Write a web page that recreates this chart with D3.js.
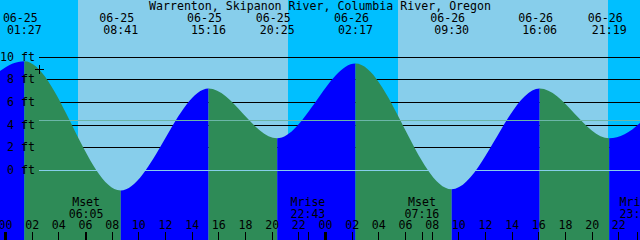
<!DOCTYPE html>
<html>
<head>
<meta charset="utf-8">
<script src="https://cdn.jsdelivr.net/npm/d3@7"></script>
<style>
  body { margin: 0; background: #fff; }
  text { font-family: "DejaVu Sans Mono", monospace; font-size: 11.6px; fill: #000; }
</style>
</head>
<body>
<div id="chart"></div>
<script>
// Chart data
const title = "Warrenton, Skipanon River, Columbia River, Oregon";
const timeStart = "06-24 23:37:30", timeEnd = "06-26 23:37:30";

// high / low tides (first and last are just off the chart)
const tideTimes = ["06-24 19:35", "06-25 01:27", "06-25 08:41", "06-25 15:16", "06-25 20:25",
                   "06-26 02:17", "06-26 09:30", "06-26 16:06", "06-26 21:19", "06-27 03:05"];
const tideHeights = [2.9, 9.6, -1.8, 7.2, 2.8, 9.4, -1.7, 7.2, 2.8, 9.3];

const sunTimes = ["06-25 05:28", "06-25 21:13", "06-26 05:28", "06-26 21:13"];
const sunEvents = ["rise", "set", "rise", "set"];

const moonTimes = ["06-25 06:05", "06-25 22:43", "06-26 07:16", "06-26 23:24"];
const moonEvents = ["Mset", "Mrise", "Mset", "Mrise"];

const depthTicks = [0, 2, 4, 6, 8, 10];
const mslLevel = 4.4;

// Sets the dimensions
const width = 640, height = 240;
const dayColor = "#87ceeb", nightColor = "#00bfff";
const riseColor = "#0000ff", fallColor = "#2e8b57";

const parse = d3.utcParse("%m-%d %H:%M");
const parseS = d3.utcParse("%m-%d %H:%M:%S");

const svg = d3.select("#chart")
  .append("svg")
  .attr("width", width)
  .attr("height", height);

const x = d3.scaleUtc()
  .domain([parseS(timeStart), parseS(timeEnd)])
  .range([0, width]);

const y = d3.scaleLinear()
  .domain([0, 10])
  .range([170, 56.7]);

const tides = tideTimes.map((t, i) => ({t: parse(t), h: tideHeights[i]}));
const sun = sunTimes.map((t, i) => ({t: parse(t), e: sunEvents[i]}));
const moon = moonTimes.map((t, i) => ({t: parse(t), e: moonEvents[i]}));

// Day / night background bands
const [t0, t1] = x.domain();
const edges = [t0, ...sun.map(d => d.t), t1];
const bands = d3.pairs(edges).map(([a, b], i) => ({a, b, night: i === 0 ? sun[0].e === "rise" : sun[i - 1].e === "set"}));

svg.append("g")
  .selectAll("rect")
  .data(bands)
  .join("rect")
    .attr("x", d => Math.round(x(d.a)))
    .attr("y", 0)
    .attr("width", d => Math.round(x(d.b)) - Math.round(x(d.a)))
    .attr("height", height)
    .attr("fill", d => d.night ? nightColor : dayColor);

// Depth lines (behind the water)
svg.append("g")
  .selectAll("line")
  .data(depthTicks)
  .join("line")
    .attr("x1", 39)
    .attr("x2", width)
    .attr("y1", d => Math.round(y(d)) + 0.5)
    .attr("y2", d => Math.round(y(d)) + 0.5)
    .attr("stroke", "#000")
    .attr("shape-rendering", "crispEdges");

// Water: clip to the tide curve, then colour rising / falling parts
const area = d3.area()
  .x(d => x(d.t))
  .y0(height)
  .y1(d => y(d.h))
  .curve(d3.curveMonotoneX);

svg.append("clipPath")
  .attr("id", "water")
  .append("path")
  .attr("d", area(tides));

svg.append("g")
  .attr("clip-path", "url(#water)")
  .selectAll("rect")
  .data(d3.pairs(tides))
  .join("rect")
    .attr("x", d => x(d[0].t))
    .attr("y", 0)
    .attr("width", d => x(d[1].t) - x(d[0].t))
    .attr("height", height)
    .attr("fill", d => d[1].h > d[0].h ? riseColor : fallColor);

// Datum and mean sea level lines
svg.append("line")
  .attr("x1", 39).attr("x2", width)
  .attr("y1", Math.round(y(0)) + 0.5).attr("y2", Math.round(y(0)) + 0.5)
  .attr("stroke", "#87ceeb")
  .attr("shape-rendering", "crispEdges");

svg.append("line")
  .attr("x1", 39).attr("x2", width)
  .attr("y1", Math.round(y(mslLevel)) + 0.5).attr("y2", Math.round(y(mslLevel)) + 0.5)
  .attr("stroke", "#6cb6a8")
  .attr("shape-rendering", "crispEdges");

// Depth labels
svg.append("g")
  .selectAll("text")
  .data(depthTicks)
  .join("text")
    .attr("x", 35)
    .attr("y", d => y(d) + 4)
    .attr("text-anchor", "end")
    .text(d => d + " ft");

// small + mark
svg.append("path")
  .attr("d", "M35,69.5H44M39.5,65V74")
  .attr("stroke", "#000")
  .attr("shape-rendering", "crispEdges");

// Title
svg.append("text")
  .attr("x", width / 2)
  .attr("y", 10)
  .attr("text-anchor", "middle")
  .text(title);

// High / low labels
const shown = tides.filter(d => d.t >= t0 && d.t <= t1);
const fmtDate = d3.utcFormat("%m-%d"), fmtTime = d3.utcFormat("%H:%M");

svg.append("g")
  .selectAll("text")
  .data(shown)
  .join("text")
    .attr("x", d => x(d.t) - 4)
    .attr("y", 22)
    .attr("text-anchor", "middle")
    .text(d => fmtDate(d.t));

svg.append("g")
  .selectAll("text")
  .data(shown)
  .join("text")
    .attr("x", d => x(d.t))
    .attr("y", 34)
    .attr("text-anchor", "middle")
    .text(d => fmtTime(d.t));

// Moon events
const moonG = svg.append("g")
  .selectAll("g")
  .data(moon)
  .join("g")
    .attr("transform", d => `translate(${x(d.t)},0)`);

moonG.append("text").attr("y", 206).attr("text-anchor", "middle").text(d => d.e);
moonG.append("text").attr("y", 218).attr("text-anchor", "middle").text(d => fmtTime(d.t));
moonG.append("line")
  .attr("x1", 0.5).attr("x2", 0.5)
  .attr("y1", 232).attr("y2", height)
  .attr("stroke", "#000")
  .attr("shape-rendering", "crispEdges");

// Hour axis along the bottom
const hours = d3.utcHour.every(2).range(t0, t1);
const xAxis = d3.axisBottom(x)
  .tickValues(hours)
  .tickFormat(d3.utcFormat("%H"))
  .tickSize(0)
  .tickPadding(0);

const axisG = svg.append("g")
  .attr("transform", "translate(0,0)")
  .call(xAxis);
axisG.select(".domain").remove();
axisG.selectAll("text")
  .attr("y", 229)
  .attr("dy", null)
  .attr("font-family", null)
  .attr("font-size", null)
  .attr("fill", "#000");

svg.append("g")
  .selectAll("line")
  .data(hours)
  .join("line")
    .attr("x1", d => Math.round(x(d)) + 0.5)
    .attr("x2", d => Math.round(x(d)) + 0.5)
    .attr("y1", 232)
    .attr("y2", height)
    .attr("stroke", "#000")
    .attr("stroke-width", d => d.getUTCHours() === 0 ? 3 : 1)
    .attr("shape-rendering", "crispEdges");
</script>
</body>
</html>
